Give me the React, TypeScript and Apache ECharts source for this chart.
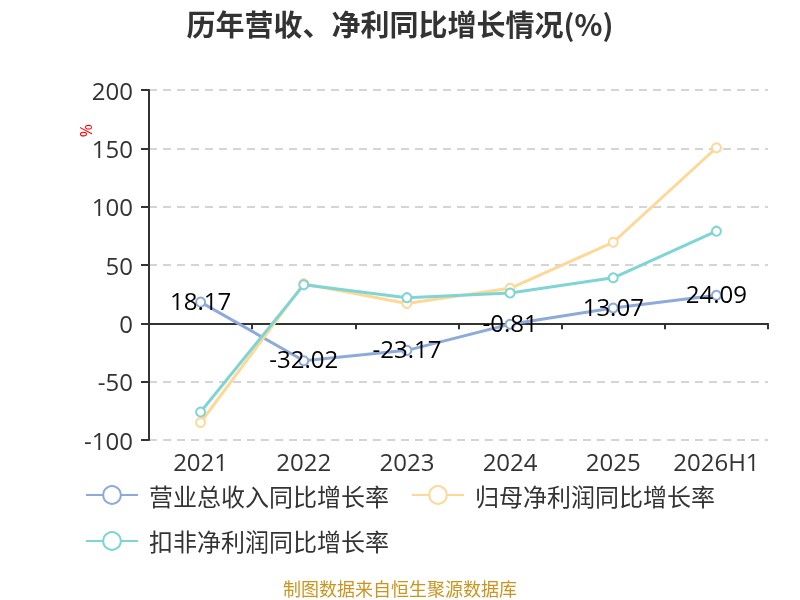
import { useEffect, useRef } from "react"
import * as echarts from "echarts"

const years = ["2021", "2022", "2023", "2024", "2025", "2026H1"]
const revenueGrowth = [18.17, -32.02, -23.17, -0.81, 13.07, 24.09]
const parentProfitGrowth = [-85, 34, 17, 30, 69.5, 150.5]
const deductedProfitGrowth = [-76, 33, 22, 26, 39, 79]
const seriesNames = ["营业总收入同比增长率", "归母净利润同比增长率", "扣非净利润同比增长率"]
const colors = ["#8eaadb", "#fdd897", "#7fd4d4"]

const font = "'Open Sans', 'Noto Sans CJK SC', sans-serif"
const cjkFont = "'Noto Sans CJK SC', sans-serif"

const App = () => {
  const chartRef = useRef<HTMLDivElement>(null)

  useEffect(() => {
    if (!chartRef.current) return
    const chart = echarts.init(chartRef.current, undefined, { renderer: "svg" })

    const makeSeries = (name: string, data: number[], color: string, showLabel: boolean) => ({
      name,
      type: "line",
      data,
      xAxisIndex: 0,
      symbol: "emptyCircle",
      symbolSize: 9,
      lineStyle: { width: 3, color },
      itemStyle: { color, borderWidth: 2 },
      label: showLabel
        ? {
            show: true,
            position: "inside",
            offset: [0, -2],
            color: "#000",
            fontSize: 24,
            fontFamily: font,
          }
        : { show: false },
    })

    chart.setOption({
      animation: false,
      color: colors,
      textStyle: { fontFamily: font },
      title: {
        text: "历年营收、净利同比增长情况(%)",
        left: "center",
        top: 3,
        textStyle: { fontSize: 29, fontWeight: "bold", color: "#333", fontFamily: cjkFont },
      },
      legend: {
        data: seriesNames,
        left: 80,
        top: 478,
        width: 650,
        itemWidth: 52,
        itemHeight: 22,
        itemGap: 22,
        textStyle: { fontSize: 24, color: "#333", fontFamily: cjkFont, padding: [0, 0, 0, 6] },
      },
      grid: { left: 149, right: 32, top: 90, bottom: 160, containLabel: false },
      xAxis: [
        {
          type: "category",
          data: years,
          position: "bottom",
          axisLine: { show: false, onZero: false },
          axisTick: { show: false },
          axisLabel: { interval: 0, fontSize: 24, color: "#333", margin: 9, fontFamily: font },
        },
        {
          type: "category",
          data: years,
          position: "top",
          axisLine: { show: true, onZero: true, lineStyle: { color: "#333", width: 2 } },
          axisTick: { show: true, inside: true, length: 6, lineStyle: { color: "#333", width: 2 } },
          axisLabel: { show: false },
        },
      ],
      yAxis: {
        type: "value",
        min: -100,
        max: 200,
        interval: 50,
        axisLine: { show: true, lineStyle: { color: "#333", width: 2 } },
        axisTick: { show: true, length: 8, lineStyle: { color: "#333", width: 2 } },
        axisLabel: { fontSize: 24, color: "#333", margin: 16, fontFamily: font },
        splitLine: { lineStyle: { color: "#c8c8c8", type: [8, 6], width: 1.5 } },
      },
      graphic: [
        {
          type: "text",
          left: 78,
          top: 124,
          rotation: Math.PI / 2,
          style: { text: "%", fill: "#f00", fontSize: 16, fontFamily: font },
        },
        {
          type: "text",
          left: "center",
          top: 579,
          style: {
            text: "制图数据来自恒生聚源数据库",
            fill: "#c9951f",
            fontSize: 18,
            fontFamily: cjkFont,
          },
        },
      ],
      series: [
        makeSeries(seriesNames[0], revenueGrowth, colors[0], true),
        makeSeries(seriesNames[1], parentProfitGrowth, colors[1], false),
        makeSeries(seriesNames[2], deductedProfitGrowth, colors[2], false),
      ],
    })

    return () => {
      chart.dispose()
    }
  }, [])

  return (
    <div
      ref={chartRef}
      style={{ position: "fixed", left: 0, top: 0, width: 800, height: 600 }}
    />
  )
}

export default App
